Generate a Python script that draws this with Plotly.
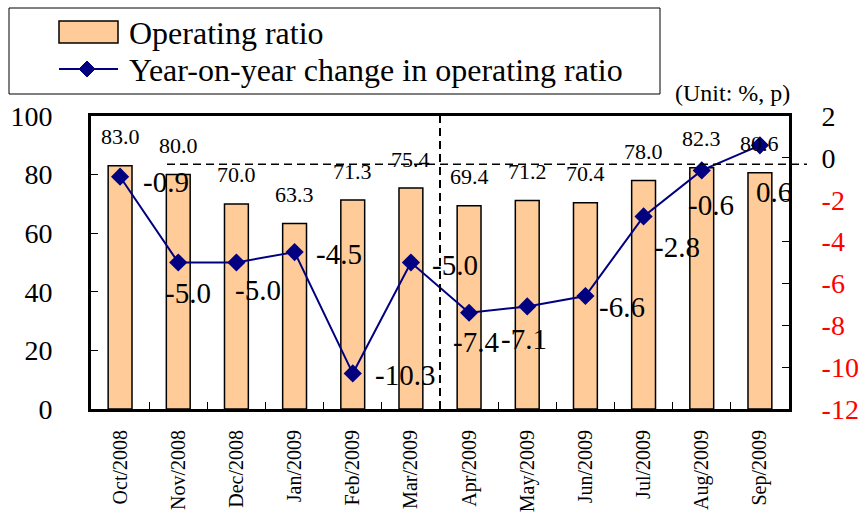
import plotly.graph_objects as go

categories = ["Oct/2008", "Nov/2008", "Dec/2008", "Jan/2009", "Feb/2009", "Mar/2009",
              "Apr/2009", "May/2009", "Jun/2009", "Jul/2009", "Aug/2009", "Sep/2009"]
operating_ratio = [83.0, 80.0, 70.0, 63.3, 71.3, 75.4, 69.4, 71.2, 70.4, 78.0, 82.3, 80.6]
yoy_change = [-0.9, -5.0, -5.0, -4.5, -10.3, -5.0, -7.4, -7.1, -6.6, -2.8, -0.6, 0.6]
left_ticks = [0, 20, 40, 60, 80, 100]
right_ticks = [-12, -10, -8, -6, -4, -2, 0, 2]

# label offsets (style, px)
line_label_dx = [46, 10, 22, 44, 52, 44, 7, -3, 37, 33, 9, 14]
line_label_dy = [-5, -30, -27, -2, -2, -2, -29, -33, -11, -31, -35, -47]

W, H = 858, 530
L, R, T, B = 91, 789, 116, 409
FONT = "Liberation Serif, Times New Roman, serif"
BAR_COLOR = "#FFCC99"
LINE_COLOR = "#000080"


def px(x):
    return (x - L) / (R - L)


def py(y):
    return (B - y) / (B - T)


fig = go.Figure()
fig.add_trace(go.Bar(
    x=categories, y=operating_ratio, name="Operating ratio",
    marker=dict(color=BAR_COLOR, line=dict(color="black", width=1.5)),
    width=0.41, yaxis="y", showlegend=False,
))
fig.add_trace(go.Scatter(
    x=categories, y=yoy_change, name="Year-on-year change in operating ratio",
    mode="lines+markers", yaxis="y2",
    line=dict(color=LINE_COLOR, width=2),
    marker=dict(symbol="diamond", size=14, color=LINE_COLOR),
    showlegend=False,
))

annotations = []
for c, v in zip(categories, operating_ratio):
    annotations.append(dict(x=c, y=v, xref="x", yref="y", text=f"{v:.1f}",
                            showarrow=False, yshift=29,
                            font=dict(family=FONT, size=22, color="black")))
for c, v, dx, dy in zip(categories, yoy_change, line_label_dx, line_label_dy):
    annotations.append(dict(x=c, y=v, xref="x", yref="y2", text=f"{v:.1f}",
                            showarrow=False, xshift=dx, yshift=dy,
                            font=dict(family=FONT, size=29, color="black")))

# custom legend
annotations.append(dict(x=px(127), y=py(33), xref="paper", yref="paper",
                        xanchor="left", yanchor="middle", showarrow=False,
                        text="Operating ratio",
                        font=dict(family=FONT, size=32, color="black")))
annotations.append(dict(x=px(127), y=py(70), xref="paper", yref="paper",
                        xanchor="left", yanchor="middle", showarrow=False,
                        text="Year-on-year change in operating ratio",
                        font=dict(family=FONT, size=32, color="black")))
annotations.append(dict(x=px(732), y=py(93), xref="paper", yref="paper",
                        xanchor="center", yanchor="middle", showarrow=False,
                        text="(Unit: %, p)",
                        font=dict(family=FONT, size=24, color="black")))

shapes = [
    # legend box
    dict(type="rect", xref="paper", yref="paper",
         x0=px(9), x1=px(660), y0=py(94), y1=py(8),
         line=dict(color="black", width=1), fillcolor="white", layer="below"),
    dict(type="rect", xref="paper", yref="paper",
         x0=px(59), x1=px(118), y0=py(43), y1=py(21),
         line=dict(color="black", width=1.5), fillcolor=BAR_COLOR),
    dict(type="line", xref="paper", yref="paper",
         x0=px(59), x1=px(118), y0=py(69), y1=py(69),
         line=dict(color=LINE_COLOR, width=2)),
    dict(type="path", xref="paper", yref="paper",
         path=(f"M {px(87)},{py(61)} L {px(95)},{py(69)} L {px(87)},{py(77)} "
               f"L {px(79)},{py(69)} Z"),
         line=dict(color=LINE_COLOR, width=1), fillcolor=LINE_COLOR),
    # horizontal dashed zero line
    dict(type="line", xref="paper", yref="y2",
         x0=px(167), x1=px(807), y0=-0.3, y1=-0.3,
         line=dict(color="black", width=1.5, dash="8px,5px")),
    # vertical dashed divider between Mar and Apr
    dict(type="line", xref="x", yref="paper",
         x0=5.5, x1=5.5, y0=0, y1=1,
         line=dict(color="black", width=2, dash="8px,5px")),
]

right_text = [f'<span style="color:red">{v}</span>' if v < 0 else str(v) for v in right_ticks]

fig.update_layout(
    template="none",
    width=W, height=H,
    margin=dict(l=L, r=W - R, t=T, b=H - B, pad=0, autoexpand=False),
    paper_bgcolor="white", plot_bgcolor="white",
    bargap=0.59,
    showlegend=False,
    font=dict(family=FONT, color="black"),
    xaxis=dict(
        type="category", categoryorder="array", categoryarray=categories,
        range=[-0.5, len(categories) - 0.5], autorange=False,
        automargin=False,
        showline=True, linecolor="black", linewidth=3, mirror=True,
        ticks="inside", tickson="boundaries", ticklen=7, tickwidth=1.2, tickcolor="black",
        tickangle=-90, tickfont=dict(family=FONT, size=20, color="black"),
        ticklabelstandoff=10,
        showgrid=False, zeroline=False,
    ),
    yaxis=dict(
        range=[0, 100], tickvals=left_ticks, automargin=False,
        showline=True, linecolor="black", linewidth=3, mirror=True,
        ticks="inside", ticklen=7, tickwidth=1.2, tickcolor="black",
        tickfont=dict(family=FONT, size=28, color="black"),
        ticklabelstandoff=30,
        showgrid=False, zeroline=False,
    ),
    yaxis2=dict(
        range=[-12, 2], overlaying="y", side="right", automargin=False,
        tickvals=right_ticks, ticktext=right_text,
        showline=True, linecolor="black", linewidth=3,
        ticks="inside", ticklen=7, tickwidth=1.2, tickcolor="black",
        tickfont=dict(family=FONT, size=28, color="black"),
        ticklabelstandoff=24,
        showgrid=False, zeroline=False,
    ),
    annotations=annotations,
    shapes=shapes,
)

fig.write_html("out.html")
